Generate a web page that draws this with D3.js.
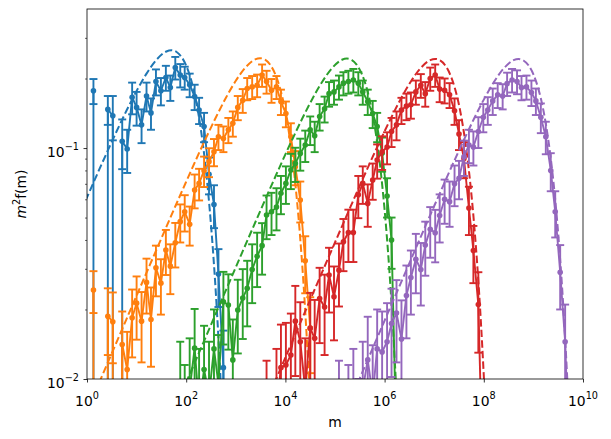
<!DOCTYPE html>
<html>
<head>
<meta charset="utf-8">
<script src="https://cdn.jsdelivr.net/npm/d3@7"></script>
<style>
body { margin: 0; background: #fff; }
text { font-family: "DejaVu Sans", sans-serif; fill: #000; }
</style>
</head>
<body>
<div class="container"></div>
<script>
// log10(m) bin centres shared by all runs
const bins = [0.13, 0.23, 0.32, 0.42, 0.52, 0.62, 0.71, 0.81, 0.91, 1.00,
  1.10, 1.20, 1.29, 1.39, 1.49, 1.59, 1.68, 1.78, 1.88, 1.97,
  2.07, 2.17, 2.26, 2.36, 2.46, 2.56, 2.65, 2.75, 2.85, 2.94,
  3.04, 3.14, 3.23, 3.33, 3.43, 3.53, 3.62, 3.72, 3.82, 3.91,
  4.01, 4.11, 4.20, 4.30, 4.40, 4.50, 4.59, 4.69, 4.79, 4.88,
  4.98, 5.08, 5.17, 5.27, 5.37, 5.47, 5.56, 5.66, 5.76, 5.85,
  5.95, 6.05, 6.14, 6.24, 6.34, 6.44, 6.53, 6.63, 6.73, 6.82,
  6.92, 7.02, 7.11, 7.21, 7.31, 7.41, 7.50, 7.60, 7.70, 7.79,
  7.89, 7.99, 8.08, 8.18, 8.28, 8.38, 8.47, 8.57, 8.67, 8.76,
  8.86, 8.96, 9.05, 9.15, 9.25, 9.35, 9.44, 9.54, 9.64, 9.73, 9.83];

// first bin index of each run
const starts = [0, 0, 18, 36, 51];
const colors = ["#1f77b4", "#ff7f0e", "#2ca02c", "#d62728", "#9467bd"];

const blueY = [0.177, 0, 0, 0.147, 0.138, 0, 0.107, 0.099, 0.166, 0.150, 0.126, 0.168, 0.142, 0.194, 0.177,
  0.202, 0.183, 0.223, 0.207, 0.202, 0.188, 0.167, 0.146, 0.124, 0.077, 0.057, 0.0285, 0.0112, 0];
const blueErr = [0.022, 0, 0, 0.021, 0.03, 0, 0.026, 0.021, 0.026, 0.025, 0.021, 0.024, 0.022, 0.025, 0.024,
  0.025, 0.023, 0.025, 0.024, 0.023, 0.022, 0.021, 0.019, 0.018, 0.014, 0.012, 0.008, 0.005, 0];

const orangeY = [0.0243, 0, 0, 0.0187, 0.0177, 0, 0.0141, 0.0110, 0.0184, 0.0213, 0.0178, 0.0262, 0.0181,
  0.0303, 0.0260, 0.0362, 0.0308, 0.0389, 0.0480, 0.0530, 0.0468, 0.0658, 0.0703, 0.0798, 0.0873, 0.0964,
  0.112, 0.110, 0.120, 0.128, 0.150, 0.161, 0.181, 0.184, 0.187, 0.207, 0.194, 0.178, 0.184, 0.159, 0.141,
  0.112, 0.083, 0.0596, 0.0325, 0.0166, 0];
const orangeErr = [0.005, 0, 0, 0.006, 0.006, 0, 0.0055, 0.005, 0.006, 0.0065, 0.006, 0.007, 0.0068,
  0.0075, 0.007, 0.008, 0.0075, 0.0085, 0.009, 0.0095, 0.009, 0.011, 0.011, 0.012, 0.0125, 0.013,
  0.014, 0.014, 0.015, 0.016, 0.018, 0.019, 0.020, 0.021, 0.021, 0.023, 0.022, 0.021, 0.021, 0.020, 0.018,
  0.016, 0.014, 0.012, 0.009, 0.006, 0];

const greenY = [0.0080, 0.0055, 0.0090, 0.0136, 0.0075, 0.0110, 0.0085, 0.0135, 0.0095, 0.0216, 0.0209,
  0.0121, 0.0199, 0.0224, 0.0247, 0.0298, 0.0340, 0.0378, 0.0513, 0.0530, 0.0555, 0.0637, 0.0703, 0.0804,
  0.0858, 0.0948, 0.103, 0.120, 0.113, 0.137, 0.148, 0.172, 0.175, 0.184, 0.191, 0.194, 0.197, 0.191, 0.175,
  0.159, 0.141, 0.124, 0.095, 0.062, 0.040, 0.005];
const greenErr = [0.0065, 0.006, 0.006, 0.0065, 0.006, 0.006, 0.006, 0.0065, 0.006, 0.0075, 0.0075,
  0.006, 0.007, 0.0075, 0.0078, 0.0085, 0.009, 0.0095, 0.011, 0.011, 0.0115, 0.012, 0.013, 0.014,
  0.0145, 0.015, 0.016, 0.017, 0.017, 0.018, 0.019, 0.021, 0.021, 0.022, 0.022, 0.022, 0.023, 0.022, 0.021,
  0.020, 0.019, 0.018, 0.016, 0.012, 0.010, 0];

const redY = [0.0060, 0.0040, 0.0075, 0.0112, 0.0115, 0.0127, 0.0178, 0.0145, 0.0090, 0.0166, 0.0150,
  0.0223, 0.0205, 0.0282, 0.0227, 0.0296, 0.0393, 0.0431, 0.0431, 0.0627, 0.0703, 0.0576, 0.0727, 0.0887,
  0.0964, 0.101, 0.118, 0.126, 0.146, 0.152, 0.154, 0.175, 0.187, 0.172, 0.200, 0.207, 0.180, 0.178, 0.170,
  0.145, 0.115, 0.090, 0.055, 0.036, 0.021, 0.003];
const redErr = [0.006, 0.005, 0.006, 0.006, 0.006, 0.0065, 0.0075, 0.007, 0.006, 0.007, 0.007,
  0.008, 0.0078, 0.0088, 0.008, 0.009, 0.010, 0.011, 0.011, 0.013, 0.013, 0.012, 0.013, 0.015,
  0.016, 0.016, 0.017, 0.018, 0.019, 0.020, 0.020, 0.021, 0.022, 0.021, 0.023, 0.023, 0.022, 0.022, 0.021,
  0.019, 0.017, 0.016, 0.013, 0.010, 0.008, 0];

const purpleY = [0.0060, 0, 0.0065, 0.0080, 0.0050, 0.0090, 0.0121, 0.0085, 0.0135, 0.0131, 0.0145,
  0.0174, 0.0193, 0.0149, 0.0230, 0.0275, 0.0330, 0.0298, 0.0380, 0.0445, 0.0430, 0.0510, 0.0600, 0.0586,
  0.0700, 0.0740, 0.0917, 0.103, 0.101, 0.118, 0.136, 0.146, 0.160, 0.170, 0.168, 0.190, 0.197, 0.194,
  0.183, 0.184, 0.174, 0.160, 0.136, 0.112, 0.080, 0.053, 0.029, 0.0145, 0.004];
const purpleErr = [0.006, 0, 0.005, 0.0055, 0.005, 0.0055, 0.0065, 0.0055, 0.0065, 0.0065, 0.0068,
  0.0072, 0.0075, 0.007, 0.008, 0.0085, 0.0095, 0.009, 0.010, 0.011, 0.011, 0.012, 0.013, 0.013,
  0.014, 0.014, 0.016, 0.017, 0.017, 0.018, 0.019, 0.020, 0.021, 0.021, 0.021, 0.022, 0.023, 0.023,
  0.022, 0.022, 0.022, 0.021, 0.020, 0.018, 0.015, 0.012, 0.009, 0.0065, 0];

// dashed model curves: log10(m) and m^2 f(m)
const blueFitX = [-0.2, 0.0, 0.2, 0.4, 0.6, 0.8, 1.0, 1.2, 1.4, 1.6, 1.7, 1.8, 1.9, 2.0, 2.1, 2.2, 2.3, 2.4, 2.5, 2.6, 2.7, 2.8];
const blueFitY = [0.0488, 0.0612, 0.0766, 0.0955, 0.1185, 0.1457, 0.1768, 0.2100, 0.2410, 0.2619, 0.2651,
  0.2612, 0.2489, 0.2274, 0.1969, 0.1594, 0.1187, 0.0794, 0.0465, 0.0231, 0.0092, 0.0028];
const orangeFitX = [-0.01, 0.19, 0.39, 0.59, 0.79, 0.99, 1.19, 1.39, 1.59, 1.79, 1.99, 2.19, 2.39, 2.59, 2.79,
  2.99, 3.19, 3.39, 3.49, 3.59, 3.69, 3.79, 3.89, 3.99, 4.09, 4.19, 4.29, 4.39, 4.49, 4.59];
const orangeFitY = [0.00719, 0.00905, 0.01139, 0.01433, 0.01804, 0.0227, 0.02854, 0.03589, 0.04507, 0.05653,
  0.07075, 0.08828, 0.1095, 0.1346, 0.1634, 0.1940, 0.2226, 0.2420, 0.2449, 0.2413, 0.2300, 0.2101, 0.1819,
  0.1473, 0.1097, 0.0734, 0.0430, 0.0213, 0.0085, 0.0026];
const greenFitX = [1.74, 1.94, 2.14, 2.34, 2.54, 2.74, 2.94, 3.14, 3.34, 3.54, 3.74, 3.94, 4.14, 4.34, 4.54,
  4.74, 4.94, 5.14, 5.24, 5.34, 5.44, 5.54, 5.64, 5.74, 5.84, 5.94, 6.04, 6.14, 6.24, 6.34];
const greenFitY = [0.00716, 0.00902, 0.01135, 0.01428, 0.01797, 0.02262, 0.02844, 0.03576, 0.04491, 0.05633,
  0.0705, 0.0880, 0.1091, 0.1342, 0.1628, 0.1933, 0.2218, 0.2411, 0.2440, 0.2405, 0.2292, 0.2093, 0.1813,
  0.1468, 0.1093, 0.0731, 0.0428, 0.0212, 0.0085, 0.0026];
const redFitX = [3.52, 3.72, 3.92, 4.12, 4.32, 4.52, 4.72, 4.92, 5.12, 5.32, 5.52, 5.72, 5.92, 6.12, 6.32,
  6.52, 6.72, 6.92, 7.02, 7.12, 7.22, 7.32, 7.42, 7.52, 7.62, 7.72, 7.82, 7.92, 8.02, 8.12];
const redFitY = [0.00714, 0.00899, 0.01131, 0.01423, 0.01791, 0.02254, 0.02834, 0.03564, 0.04475, 0.05613,
  0.0703, 0.0877, 0.1087, 0.1337, 0.1622, 0.1927, 0.2211, 0.2403, 0.2432, 0.2396, 0.2284, 0.2086, 0.1806,
  0.1463, 0.1089, 0.0729, 0.0427, 0.0211, 0.0084, 0.0026];
const purpleFitX = [5.2, 5.4, 5.6, 5.8, 6.0, 6.2, 6.4, 6.6, 6.8, 7.0, 7.2, 7.4, 7.6, 7.8, 8.0,
  8.2, 8.4, 8.6, 8.7, 8.8, 8.9, 9.0, 9.1, 9.2, 9.3, 9.4, 9.5, 9.6, 9.7, 9.8];
const purpleFitY = [0.00713, 0.00898, 0.0113, 0.01422, 0.0179, 0.02253, 0.02832, 0.03562, 0.04472, 0.0561,
  0.0702, 0.0876, 0.1086, 0.1336, 0.1621, 0.1925, 0.2209, 0.2401, 0.2430, 0.2394, 0.2282, 0.2084, 0.1804,
  0.1461, 0.1088, 0.0728, 0.0426, 0.0211, 0.0084, 0.0026];

const xTickExp = [0, 2, 4, 6, 8, 10];
const yTickExp = [-2, -1];
const yMinor = [0.02, 0.03, 0.04, 0.05, 0.06, 0.07, 0.08, 0.09, 0.2, 0.3];

let margin = {top: 9, right: 28, bottom: 60, left: 87},
  width = 611 - margin.left - margin.right,
  height = 439 - margin.top - margin.bottom;

let x = d3.scaleLog().domain([1, 1e10]).range([0, width]);
let y = d3.scaleLog().domain([0.01, 0.4]).range([height, 0]);

// zero / empty bins fall far below the axis, like matplotlib's clipping
let yPx = (v) => v > 0 ? y(v) : height + 1e5;
let xPx = (lm) => x(Math.pow(10, lm));

let svg = d3.select(".container").append("svg")
    .attr("width", 611)
    .attr("height", 439)
  .append("g")
    .attr("transform", "translate(" + margin.left + "," + margin.top + ")");

svg.append("clipPath").attr("id", "plotclip")
  .append("rect").attr("width", width).attr("height", height);

let plot = svg.append("g").attr("clip-path", "url(#plotclip)");

let runs = [
  {y: blueY, err: blueErr, fx: blueFitX, fy: blueFitY},
  {y: orangeY, err: orangeErr, fx: orangeFitX, fy: orangeFitY},
  {y: greenY, err: greenErr, fx: greenFitX, fy: greenFitY},
  {y: redY, err: redErr, fx: redFitX, fy: redFitY},
  {y: purpleY, err: purpleErr, fx: purpleFitX, fy: purpleFitY}
];

let dataLine = d3.line().x((d) => xPx(d.lm)).y((d) => yPx(d.v));
let fitLine = d3.line().x((d) => xPx(d[0])).y((d) => y(d[1])).curve(d3.curveMonotoneX);
let cap = 4;
let lw = 1.9;

runs.forEach((r, i) => {
  let c = colors[i];
  let pts = r.y.map((v, j) => ({lm: bins[starts[i] + j], v: v, e: r.err[j]}));
  let g = plot.append("g");

  g.append("path")
    .attr("d", dataLine(pts))
    .attr("fill", "none")
    .attr("stroke", c)
    .attr("stroke-width", lw)
    .attr("stroke-linejoin", "round");

  let good = pts.filter((d) => d.v > 0);
  let eb = g.selectAll(".eb").data(good).enter().append("g");
  eb.append("line")
    .attr("x1", (d) => xPx(d.lm)).attr("x2", (d) => xPx(d.lm))
    .attr("y1", (d) => yPx(d.v + d.e))
    .attr("y2", (d) => yPx(Math.max(d.v - d.e, 1e-6)))
    .attr("stroke", c).attr("stroke-width", lw);
  eb.append("line")
    .attr("x1", (d) => xPx(d.lm) - cap).attr("x2", (d) => xPx(d.lm) + cap)
    .attr("y1", (d) => yPx(d.v + d.e)).attr("y2", (d) => yPx(d.v + d.e))
    .attr("stroke", c).attr("stroke-width", lw);
  eb.filter((d) => d.v - d.e > 0).append("line")
    .attr("x1", (d) => xPx(d.lm) - cap).attr("x2", (d) => xPx(d.lm) + cap)
    .attr("y1", (d) => yPx(d.v - d.e)).attr("y2", (d) => yPx(d.v - d.e))
    .attr("stroke", c).attr("stroke-width", lw);
  eb.append("circle")
    .attr("cx", (d) => xPx(d.lm))
    .attr("cy", (d) => yPx(d.v))
    .attr("r", 2.8)
    .attr("fill", c);

  g.append("path")
    .attr("d", fitLine(r.fx.map((v, j) => [v, r.fy[j]])))
    .attr("fill", "none")
    .attr("stroke", c)
    .attr("stroke-width", 2)
    .attr("stroke-dasharray", "7.4,3.2");
});

// ticks
let xAxis = svg.append("g").attr("transform", "translate(0," + height + ")")
  .call(d3.axisBottom(x).tickValues(xTickExp.map((e) => Math.pow(10, e))).tickSize(3.5).tickFormat(""));
xAxis.select(".domain").remove();
xAxis.selectAll("line").attr("stroke-width", 0.8);

let yAxis = svg.append("g")
  .call(d3.axisLeft(y).tickValues(yTickExp.map((e) => Math.pow(10, e))).tickSize(3.5).tickFormat(""));
yAxis.select(".domain").remove();
yAxis.selectAll("line").attr("stroke-width", 0.8);

let yAxisMinor = svg.append("g")
  .call(d3.axisLeft(y).tickValues(yMinor).tickSize(2).tickFormat(""));
yAxisMinor.select(".domain").remove();
yAxisMinor.selectAll("line").attr("stroke-width", 0.6);

// tick labels as 10^n
xTickExp.forEach((e) => {
  let t = svg.append("text")
    .attr("x", x(Math.pow(10, e)))
    .attr("y", height + 26.5)
    .attr("text-anchor", "middle")
    .style("font-size", "13.9px");
  t.append("tspan").text("10");
  t.append("tspan").attr("dy", -7).style("font-size", "9.7px").text(String(e));
});
yTickExp.forEach((e) => {
  let t = svg.append("text")
    .attr("x", -8)
    .attr("y", y(Math.pow(10, e)) + 8.5)
    .attr("text-anchor", "end")
    .style("font-size", "13.9px");
  t.append("tspan").text("10");
  t.append("tspan").attr("dy", -7).style("font-size", "9.7px").text("\u2212" + Math.abs(e));
});

// frame
svg.append("rect")
  .attr("width", width).attr("height", height)
  .attr("fill", "none").attr("stroke", "#000").attr("stroke-width", 0.8);

// axis labels
svg.append("text")
  .attr("x", width / 2)
  .attr("y", height + 47.5)
  .attr("text-anchor", "middle")
  .style("font-size", "13.9px")
  .text("m");

let yl = svg.append("text")
  .attr("transform", "translate(" + (26 - margin.left) + "," + (height / 2) + ") rotate(-90)")
  .attr("text-anchor", "middle")
  .style("font-size", "13.9px");
yl.append("tspan").style("font-style", "italic").text("m");
yl.append("tspan").attr("dy", -6).style("font-size", "9.7px").text("2");
yl.append("tspan").attr("dy", 6).text("f(m)");
</script>
</body>
</html>
